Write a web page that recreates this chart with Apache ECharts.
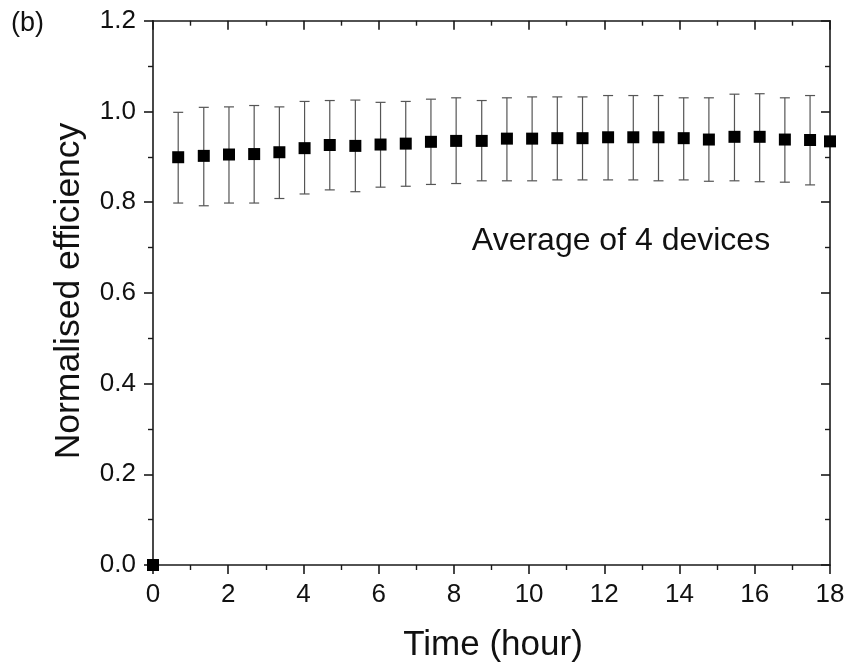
<!DOCTYPE html>
<html>
<head>
<meta charset="utf-8">
<script src="https://cdn.jsdelivr.net/npm/echarts@6/dist/echarts.min.js"></script>
<style>html,body{margin:0;padding:0;background:#fff;}#c{width:851px;height:668px;}</style>
</head>
<body>
<div id="c"></div>
<script>
// Time (hour)
var times = [0, 0.67, 1.35, 2.02, 2.69, 3.36, 4.03, 4.70, 5.38, 6.05, 6.72, 7.39, 8.06, 8.74,
  9.41, 10.08, 10.75, 11.42, 12.10, 12.77, 13.44, 14.11, 14.78, 15.46, 16.13, 16.80, 17.47, 18.0];
// Normalised efficiency (mean)
var means = [0, 0.899, 0.902, 0.905, 0.906, 0.910, 0.919, 0.926, 0.924, 0.927, 0.929, 0.933, 0.935, 0.935,
  0.940, 0.940, 0.941, 0.941, 0.943, 0.943, 0.943, 0.941, 0.938, 0.944, 0.944, 0.938, 0.937, 0.934];
// Error bar lower ends
var lows = [null, 0.798, 0.792, 0.798, 0.798, 0.808, 0.818, 0.827, 0.823, 0.833, 0.835, 0.839, 0.841, 0.847,
  0.847, 0.847, 0.849, 0.849, 0.849, 0.849, 0.847, 0.849, 0.846, 0.847, 0.845, 0.844, 0.838, null];
// Error bar upper ends
var highs = [null, 0.998, 1.009, 1.010, 1.013, 1.010, 1.022, 1.024, 1.025, 1.020, 1.022, 1.027, 1.030, 1.024,
  1.030, 1.032, 1.032, 1.032, 1.035, 1.035, 1.035, 1.030, 1.030, 1.038, 1.039, 1.030, 1.035, null];
var xTicks = {min: 0, max: 18, interval: 2};
var yTicks = {min: 0, max: 1.2, interval: 0.2};

var scatterData = times.map(function (t, i) { return [t, means[i]]; });
var errData = [];
times.forEach(function (t, i) {
  if (lows[i] != null && highs[i] != null) errData.push([t, lows[i], highs[i]]);
});

var FONT = '"Liberation Sans", Arial, sans-serif';
var AX = '#1a1a1a';

var chart = echarts.init(document.getElementById('c'), null, {renderer: 'canvas'});
chart.setOption({
  animation: false,
  backgroundColor: '#fff',
  grid: {left: 153, right: 21, top: 20.7, bottom: 103, containLabel: false},
  xAxis: [{
    type: 'value', position: 'bottom', min: xTicks.min, max: xTicks.max, interval: xTicks.interval,
    axisLine: {onZero: false, lineStyle: {color: AX, width: 1.6}},
    axisTick: {inside: false, length: 9, lineStyle: {color: AX, width: 1.6}},
    minorTick: {show: true, splitNumber: 2, length: 5, lineStyle: {color: AX, width: 1.4}},
    splitLine: {show: false},
    axisLabel: {margin: 17, fontFamily: FONT, fontSize: 26, color: '#111'}
  }, {
    type: 'value', position: 'top', min: xTicks.min, max: xTicks.max, interval: xTicks.interval,
    axisLine: {onZero: false, lineStyle: {color: AX, width: 1.6}},
    axisTick: {inside: true, length: 9, lineStyle: {color: AX, width: 1.6}},
    minorTick: {show: true, splitNumber: 2, length: 5, lineStyle: {color: AX, width: 1.4}},
    splitLine: {show: false},
    axisLabel: {show: false}
  }],
  yAxis: [{
    type: 'value', position: 'left', min: yTicks.min, max: yTicks.max, interval: yTicks.interval,
    axisLine: {onZero: false, lineStyle: {color: AX, width: 1.6}},
    axisTick: {inside: false, length: 9, lineStyle: {color: AX, width: 1.6}},
    minorTick: {show: true, splitNumber: 2, length: 5, lineStyle: {color: AX, width: 1.4}},
    splitLine: {show: false},
    axisLabel: {margin: 17, fontFamily: FONT, fontSize: 26, color: '#111',
      formatter: function (v) { return v.toFixed(1); }}
  }, {
    type: 'value', position: 'right', min: yTicks.min, max: yTicks.max, interval: yTicks.interval,
    axisLine: {onZero: false, lineStyle: {color: AX, width: 1.6}},
    axisTick: {inside: true, length: 9, lineStyle: {color: AX, width: 1.6}},
    minorTick: {show: true, splitNumber: 2, length: 5, lineStyle: {color: AX, width: 1.4}},
    splitLine: {show: false},
    axisLabel: {show: false}
  }],
  series: [{
    type: 'custom',
    xAxisIndex: 0, yAxisIndex: 0,
    clip: false,
    z: 3,
    data: errData,
    renderItem: function (params, api) {
      var x = api.value(0);
      var lo = api.coord([x, api.value(1)]);
      var hi = api.coord([x, api.value(2)]);
      var hw = 5;
      var st = {stroke: '#555', lineWidth: 1.2};
      return {
        type: 'group',
        children: [
          {type: 'line', shape: {x1: lo[0], y1: lo[1], x2: hi[0], y2: hi[1]}, style: st},
          {type: 'line', shape: {x1: lo[0] - hw, y1: lo[1], x2: lo[0] + hw, y2: lo[1]}, style: st},
          {type: 'line', shape: {x1: hi[0] - hw, y1: hi[1], x2: hi[0] + hw, y2: hi[1]}, style: st}
        ]
      };
    }
  }, {
    type: 'scatter',
    xAxisIndex: 0, yAxisIndex: 0,
    clip: false,
    z: 5,
    symbol: 'rect',
    symbolSize: 12,
    itemStyle: {color: '#000', opacity: 1},
    data: scatterData
  }],
  graphic: [
    {type: 'text', left: 11, top: 10, style: {text: '(b)', font: '27px ' + FONT, fill: '#111'}},
    {type: 'text', x: 621, y: 241, style: {text: 'Average of 4 devices', font: '32px ' + FONT, fill: '#111',
      align: 'center', verticalAlign: 'middle'}},
    {type: 'text', x: 493, y: 645, style: {text: 'Time (hour)', font: '35px ' + FONT, fill: '#111',
      align: 'center', verticalAlign: 'middle'}},
    {type: 'text', x: 69, y: 291, rotation: Math.PI / 2, style: {text: 'Normalised efficiency', font: '35.5px ' + FONT, fill: '#111',
      align: 'center', verticalAlign: 'middle'}}
  ]
});
</script>
</body>
</html>
